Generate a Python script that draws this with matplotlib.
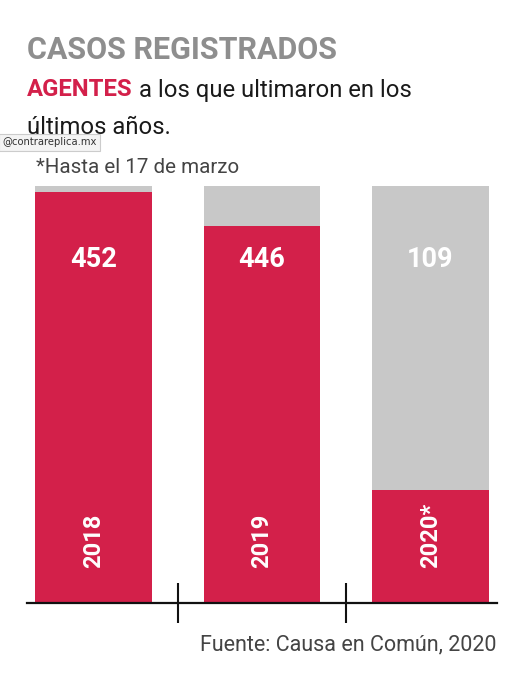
import matplotlib
matplotlib.use("Agg")
import matplotlib.pyplot as plt

# Data
years = ["2018", "2019", "2020*"]
values = [452, 446, 109]                 # labelled numbers
red_heights = [98.6, 90.4, 27.1]         # red bar height (% of grey bar)
grey_heights = [100, 100, 100]

RED = "#D3204A"
GREY = "#C8C8C8"

W, H = 517, 674
fig = plt.figure(figsize=(W / 100, H / 100), dpi=100)
fig.patch.set_facecolor("white")

def fx(px):
    return px / W

def fy(py):
    return 1 - py / H

# axes: x from 27 to 497 px, baseline at y=603, grey top at 186
ax = fig.add_axes([fx(27), fy(603), (497 - 27) / W, (603 - 186) / H])
x = list(range(len(years)))
bw = 117 / 168.5
ax.bar(x, grey_heights, width=bw, color=GREY, zorder=1)
ax.bar(x, red_heights, width=bw, color=RED, zorder=2)
ax.set_xlim(-0.395, 2.395)
ax.set_ylim(0, 100)

for i, (v, yr) in enumerate(zip(values, years)):
    ax.text(i, 82.3, str(v), ha="center", va="center", color="white",
            fontsize=19.5, fontweight="bold", family="Roboto", zorder=3)
    ax.text(i, 8.4, yr, ha="center", va="bottom", rotation=90, color="white",
            fontsize=17, fontweight="bold", family="Roboto", zorder=3)

for s in ["top", "right", "left"]:
    ax.spines[s].set_visible(False)
ax.spines["bottom"].set_linewidth(1.6)
ax.spines["bottom"].set_color("#111111")
ax.set_yticks([])
ax.set_xticks([0.5, 1.5])
ax.set_xticklabels([])
ax.tick_params(axis="x", direction="inout", length=29.5, width=1.5, color="#111111")
ax.set_facecolor("none")

# Titles
fig.text(fx(27), fy(50), "CASOS REGISTRADOS", color="#8E8E8E", fontsize=22,
         fontweight="bold", family="Roboto", ha="left", va="center")
t1 = fig.text(fx(27), fy(90), "AGENTES", color=RED, fontsize=17.2,
              fontweight="bold", family="Roboto", ha="left", va="center")
fig.canvas.draw()
bb = t1.get_window_extent()
fig.text(bb.x1 / W + fx(6), fy(90), "a los que ultimaron en los", color="#1a1a1a",
         fontsize=17.2, family="Roboto", ha="left", va="center")
fig.text(fx(27), fy(127), "últimos años.", color="#1a1a1a", fontsize=17.2,
         family="Roboto", ha="left", va="center")

# watermark
fig.text(fx(2), fy(142), "@contrareplica.mx", color="#333333", fontsize=7.2,
         family="DejaVu Sans", ha="left", va="center",
         bbox=dict(boxstyle="square,pad=0.35", facecolor="#f4f4f4",
                   edgecolor="#cccccc", linewidth=0.8))

fig.text(fx(36), fy(167), "*Hasta el 17 de marzo", color="#444444", fontsize=14.8,
         family="Roboto", ha="left", va="center")
fig.text(fx(497), fy(645), "Fuente: Causa en Común, 2020", color="#444444",
         fontsize=15.5, family="Roboto", ha="right", va="center")

fig.savefig("out.png", dpi=100)
